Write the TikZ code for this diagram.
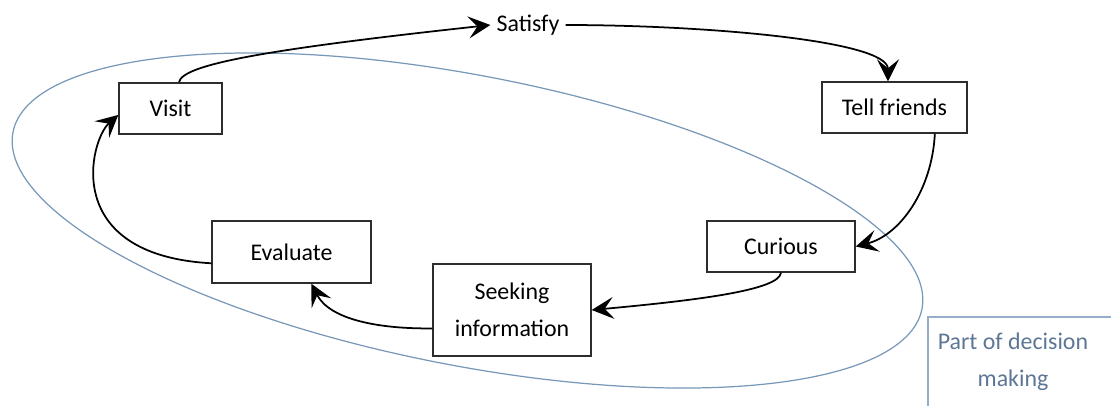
\documentclass[tikz,border=0pt]{standalone}
\usepackage{fontspec}
\setmainfont{Carlito}
\usepackage{xcolor}
\usetikzlibrary{arrows.meta, positioning}
\definecolor{loopblue}{RGB}{120, 152, 184}
\definecolor{loopframe}{RGB}{150, 175, 200}
\definecolor{looptext}{RGB}{92, 118, 148}
\definecolor{loopdark}{RGB}{45, 45, 45}

\begin{document}
\begin{tikzpicture}[
    stage/.style={
        rectangle,
        draw=loopdark,
        line width=0.8pt,
        fill=white,
        minimum height=1.02cm,
        align=center,
        font=\fontsize{13.6}{21}\selectfont
    },
    plain/.style={
        font=\fontsize{13.6}{21}\selectfont,
        align=center
    },
    flow/.style={
        -{Stealth[length=0.44cm, width=0.44cm, inset=0.18cm]},
        line width=1pt,
        black
    },
    region/.style={
        draw=loopblue,
        line width=0.7pt
    }
]

% Canvas
\useasboundingbox (0,0) rectangle (22.22,8.1);

% Decision region
\draw[region, rotate around={-11:(9.35,3.69)}] (9.35,3.69) ellipse [x radius=9.26, y radius=2.9];

% Upper row
\node[stage, minimum width=2.06cm] (visit) at (3.41,5.93) {Visit};
\node[plain] (satisfy) at (10.56,7.6) {Satisfy};
\node[stage, minimum width=2.9cm] (tell) at (17.89,5.95) {Tell friends};

% Lower row
\node[stage, minimum width=3.18cm, minimum height=1.24cm] (evaluate) at (5.83,3.06) {Evaluate};
\node[stage, minimum width=3.16cm, minimum height=1.84cm] (seeking) at (10.24,1.9) {Seeking\\information};
\node[stage, minimum width=2.96cm] (curious) at (15.62,3.17) {Curious};

% Legend (frame runs off the page at right and bottom)
\node[anchor=north west, minimum width=5cm, minimum height=2.2cm] (partframe) at (18.56,1.76) {};
\draw[loopframe, line width=0.7pt] (partframe.south west) -- (partframe.north west) -- (partframe.north east);
\node[plain, text=looptext] (part) at (20.26,0.86) {Part of decision\\making};

% Connections
\draw[flow] (visit.72) .. controls (3.64,6.8) and (5.2,7.1) .. (satisfy.west);
\draw[flow] (satisfy.east) .. controls (14.0,7.6) and (17.76,7.3) .. (tell.104);
\draw[flow] (tell.-33) .. controls (18.64,4.3) and (18.0,3.4) .. (curious.east);
\draw[flow] (curious.south) .. controls (15.58,2.3) and (14.0,2.1) .. (seeking.east);
\draw[flow] (seeking.193) .. controls (7.6,1.52) and (6.6,1.7) .. (evaluate.-58);
\draw[flow] (evaluate.188) .. controls (1.2,3.0) and (1.8,5.3) .. (visit.187);

\end{tikzpicture}
\end{document}
